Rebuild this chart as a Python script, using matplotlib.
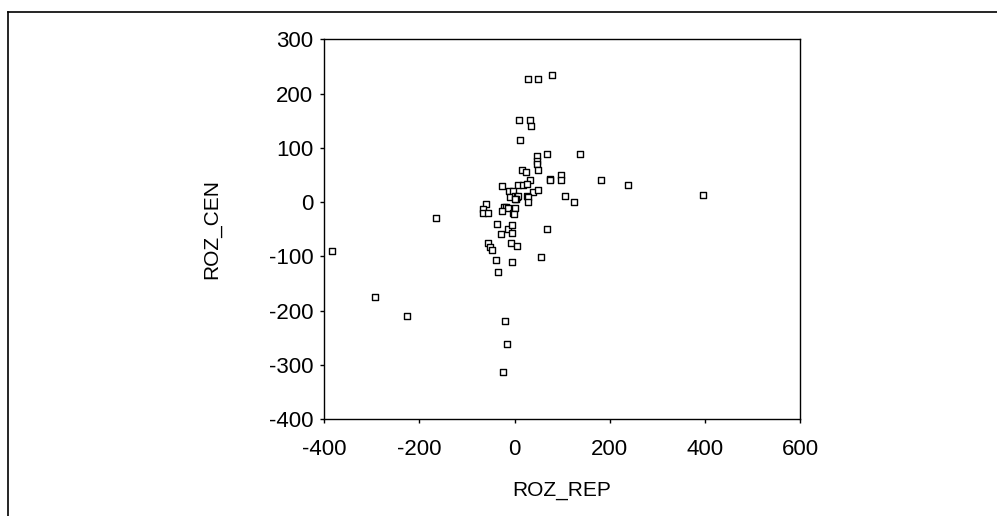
"""Scatter of ROZ_REP vs ROZ_CEN, hollow square markers, SPSS-style frame."""

import matplotlib
matplotlib.use("Agg")
import matplotlib.pyplot as plt
from matplotlib.lines import Line2D

plt.rcParams["font.family"] = ["Liberation Sans", "DejaVu Sans"]
plt.rcParams["axes.unicode_minus"] = False

# values
roz_rep = [
    29, 50, 79, 10, 32, 34, 11,
    48, 48, 48, 49, 68, 137,
    16, 24, 32, 7, 17, 26, -26,
    39, 49, 74, 74, 97, 97, 181, 239, 397,
    105, 125, 27, 29, 29,
    -12, -4, -10, 0, 5, 8, 3, 1,
    -60, -67, -67, -56, -22, -18, -13, -27, -3, 0, -2,
    -165, -383,
    -37, -29, -13, -5, -5, 68,
    -55, -51, -47, -8, 5,
    -39, -5, 55, -34,
    -294, -226, -21, -16, -24,
]
roz_cen = [
    226, 226, 235, 151, 151, 141, 115,
    85, 76, 71, 60, 89, 89,
    60, 55, 41, 32, 32, 33, 29,
    19, 22, 43, 41, 50, 41, 40, 31, 13,
    11, 1, 11, 10, 0,
    20, 20, 9, 11, 10, 12, 6, 6,
    -3, -12, -20, -20, -8, -8, -10, -16, -20, -10, -22,
    -30, -90,
    -41, -59, -50, -42, -57, -50,
    -75, -82, -89, -75, -80,
    -107, -110, -101, -128,
    -175, -210, -219, -261, -312,
]

fig = plt.figure(figsize=(9.97, 5.16), dpi=100)
ax = fig.add_axes([0.3253, 0.1874, 0.4771, 0.7364])

ax.scatter(roz_rep, roz_cen, marker="s", s=22, facecolors="white",
           edgecolors="black", linewidths=1.0, zorder=3)

ax.set_xlim(-400, 600)
ax.set_ylim(-400, 300)
ax.set_xticks([-400, -200, 0, 200, 400, 600])
ax.set_yticks([-400, -300, -200, -100, 0, 100, 200, 300])
ax.tick_params(direction="out", length=3, width=1, labelsize=16)
ax.tick_params(axis="x", pad=11)
ax.tick_params(axis="y", pad=5)
for sp in ax.spines.values():
    sp.set_linewidth(1)

ax.set_xlabel("ROZ_REP", fontsize=15, labelpad=15)
ax.set_ylabel("ROZ_CEN", fontsize=15, labelpad=34)

# outer frame: only top and left edges visible in the reference
fig.add_artist(Line2D([8 / 997, 8 / 997], [0, 1 - 12 / 516],
                      transform=fig.transFigure, color="black", lw=1.2))
fig.add_artist(Line2D([8 / 997, 1], [1 - 12 / 516, 1 - 12 / 516],
                      transform=fig.transFigure, color="black", lw=1.2))

fig.savefig("out.png", dpi=100)
